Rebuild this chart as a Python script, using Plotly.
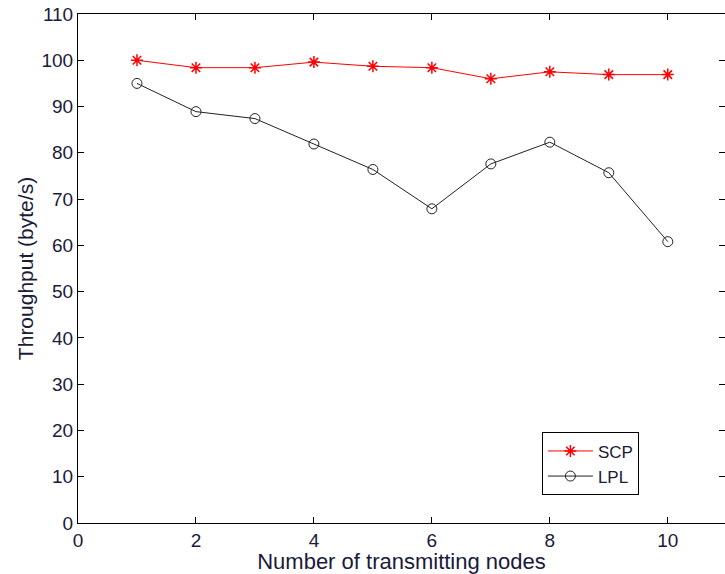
import plotly.graph_objects as go

nodes = [1, 2, 3, 4, 5, 6, 7, 8, 9, 10]
scp = [100.0, 98.4, 98.4, 99.6, 98.7, 98.4, 96.0, 97.5, 96.9, 96.9]
lpl = [95.0, 88.9, 87.4, 81.9, 76.4, 67.9, 77.6, 82.3, 75.7, 60.8]
x_ticks = [0, 2, 4, 6, 8, 10]
y_ticks = [0, 10, 20, 30, 40, 50, 60, 70, 80, 90, 100, 110]

FONT = "Liberation Sans, Arial, sans-serif"
TXT = "#1a1a3a"

fig = go.Figure()
fig.add_trace(go.Scatter(
    x=nodes, y=scp, name="SCP", mode="lines+markers",
    line=dict(color="#ff0000", width=1),
    marker=dict(symbol="asterisk-open", size=10, color="#ff0000",
                line=dict(color="#ff0000", width=1.5)),
))
fig.add_trace(go.Scatter(
    x=nodes, y=lpl, name="LPL", mode="lines+markers",
    line=dict(color="#222222", width=1),
    marker=dict(symbol="circle-open", size=10, color="#222222",
                line=dict(color="#222222", width=1)),
))

axis_common = dict(
    showgrid=False, zeroline=False, showline=True, linecolor="black",
    linewidth=1, mirror="ticks", ticks="inside", ticklen=6,
    tickcolor="black", tickfont=dict(family=FONT, size=19, color=TXT),
)

fig.update_layout(
    width=725, height=574,
    margin=dict(l=78, r=0, t=14, b=51),
    plot_bgcolor="white", paper_bgcolor="white",
    font=dict(family=FONT, color="black"),
    showlegend=True,
    legend=dict(
        x=0.717, y=0.178, xanchor="left", yanchor="top",
        bordercolor="black", borderwidth=1, bgcolor="white",
        font=dict(family=FONT, size=17, color=TXT),
        tracegroupgap=0, itemwidth=45,
    ),
    xaxis=dict(
        range=[0, 10.97], tickvals=x_ticks,
        title=dict(text="Number of transmitting nodes",
                   font=dict(family=FONT, size=22, color=TXT), standoff=6),
        **axis_common,
    ),
    yaxis=dict(
        range=[0, 110], tickvals=y_ticks,
        title=dict(text="Throughput (byte/s)",
                   font=dict(family=FONT, size=21, color=TXT), standoff=2),
        **axis_common,
    ),
)

fig.write_html("out.html")
